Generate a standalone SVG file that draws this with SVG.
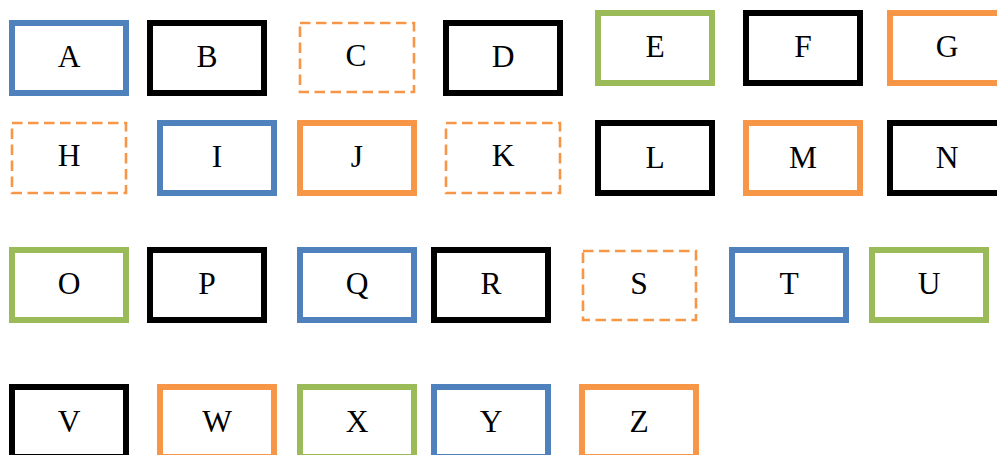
<svg xmlns="http://www.w3.org/2000/svg" width="997" height="455" viewBox="0 0 997 455">
<style>
rect{fill:#fff}
.blue{stroke:#4F81BD;stroke-width:6}
.black{stroke:#000;stroke-width:6}
.green{stroke:#9BBB59;stroke-width:6}
.orange{stroke:#F79646;stroke-width:6}
.dash{stroke:#F79646;stroke-width:2.6;stroke-dasharray:10.5 5.5}
text{font-family:"Liberation Serif","Times New Roman",serif;font-size:31.5px;fill:#000;text-anchor:middle}
</style>
<rect width="997" height="455" fill="#fff"/>
<g id="connectors"></g>
<g id="A"><rect class="blue" x="12" y="23" width="114" height="70"/><text x="69" y="66.5">A</text></g>
<g id="B"><rect class="black" x="150" y="23" width="114" height="70"/><text x="207" y="66.5">B</text></g>
<g id="C"><rect class="dash" x="300" y="23" width="114" height="69"/><text x="356" y="65.5">C</text></g>
<g id="D"><rect class="black" x="446" y="23" width="114" height="70"/><text x="503" y="66.5">D</text></g>
<g id="E"><rect class="green" x="598" y="13" width="114" height="70"/><text x="655" y="56.8">E</text></g>
<g id="F"><rect class="black" x="746" y="13" width="114" height="70"/><text x="803" y="56.8">F</text></g>
<g id="G"><rect class="orange" x="890" y="13" width="114" height="70"/><text x="947" y="56.8">G</text></g>
<g id="H"><rect class="dash" x="12" y="123" width="114" height="70"/><text x="69" y="166">H</text></g>
<g id="I"><rect class="blue" x="160" y="123" width="114" height="70"/><text x="217" y="167">I</text></g>
<g id="J"><rect class="orange" x="300" y="123" width="114" height="70"/><text x="357" y="167">J</text></g>
<g id="K"><rect class="dash" x="446" y="123" width="114" height="70"/><text x="503" y="166">K</text></g>
<g id="L"><rect class="black" x="598" y="123" width="114" height="70"/><text x="655" y="167.5">L</text></g>
<g id="M"><rect class="orange" x="746" y="123" width="114" height="70"/><text x="803" y="167.5">M</text></g>
<g id="N"><rect class="black" x="890" y="123" width="114" height="70"/><text x="947" y="167.5">N</text></g>
<g id="O"><rect class="green" x="12" y="250" width="114" height="70"/><text x="69" y="294">O</text></g>
<g id="P"><rect class="black" x="150" y="250" width="114" height="70"/><text x="207" y="294">P</text></g>
<g id="Q"><rect class="blue" x="300" y="250" width="114" height="70"/><text x="357" y="294">Q</text></g>
<g id="R"><rect class="black" x="434" y="250" width="114" height="70"/><text x="491" y="293.5">R</text></g>
<g id="S"><rect class="dash" x="583" y="251" width="113" height="69"/><text x="639" y="293.5">S</text></g>
<g id="T"><rect class="blue" x="732" y="250" width="114" height="70"/><text x="789" y="293.5">T</text></g>
<g id="U"><rect class="green" x="872" y="250" width="114" height="70"/><text x="929" y="293.5">U</text></g>
<g id="V"><rect class="black" x="12" y="387" width="114" height="70"/><text x="69" y="431.5">V</text></g>
<g id="W"><rect class="orange" x="160" y="387" width="114" height="70"/><text x="217" y="431.5">W</text></g>
<g id="X"><rect class="green" x="300" y="387" width="114" height="70"/><text x="357" y="431.5">X</text></g>
<g id="Y"><rect class="blue" x="434" y="387" width="114" height="70"/><text x="491" y="431.5">Y</text></g>
<g id="Z"><rect class="orange" x="582" y="387" width="114" height="70"/><text x="639" y="431.5">Z</text></g>
</svg>
